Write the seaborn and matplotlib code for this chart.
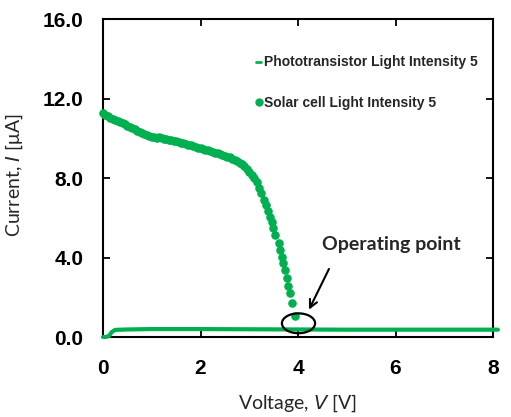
import matplotlib
matplotlib.use("Agg")
import matplotlib.pyplot as plt
from matplotlib.lines import Line2D
from matplotlib.patches import Ellipse
import pandas as pd
import seaborn as sns

# data
photo_v = [0.0, 0.05, 0.12, 0.18, 0.25, 0.5, 1.0, 2.0, 3.0, 4.0, 5.0, 6.0, 7.0, 8.1]
photo_i = [0.0, 0.0, 0.05, 0.25, 0.36, 0.38, 0.40, 0.40, 0.39, 0.38, 0.37, 0.37, 0.37, 0.37]

solar_v = [0.00, 0.05, 0.10, 0.15, 0.20, 0.25, 0.30, 0.35, 0.40, 0.45,
           0.50, 0.55, 0.60, 0.65, 0.70, 0.75, 0.80, 0.85, 0.90, 0.95,
           1.00, 1.05, 1.10, 1.15, 1.20, 1.25, 1.30, 1.35, 1.40, 1.45,
           1.50, 1.55, 1.60, 1.65, 1.70, 1.75, 1.80, 1.85, 1.90, 1.95,
           2.00, 2.05, 2.10, 2.15, 2.20, 2.25, 2.30, 2.35, 2.40, 2.45,
           2.50, 2.55, 2.60, 2.65, 2.70, 2.75, 2.80, 2.85, 2.90, 2.95,
           3.00, 3.05, 3.10, 3.15, 3.20, 3.25, 3.30, 3.34, 3.38, 3.42,
           3.46, 3.49, 3.53, 3.60, 3.63, 3.67, 3.70, 3.73, 3.77, 3.79,
           3.84, 3.87, 3.93]
solar_i = [11.25, 11.15, 11.10, 11.02, 10.95, 10.90, 10.86, 10.82, 10.75, 10.70,
           10.62, 10.56, 10.50, 10.45, 10.38, 10.32, 10.27, 10.22, 10.18, 10.12,
           10.08, 10.05, 10.00, 10.06, 10.02, 9.98, 9.95, 9.92, 9.90, 9.87,
           9.85, 9.82, 9.78, 9.74, 9.71, 9.67, 9.64, 9.60, 9.56, 9.53,
           9.50, 9.46, 9.42, 9.39, 9.36, 9.32, 9.28, 9.25, 9.21, 9.17,
           9.13, 9.08, 9.04, 8.98, 8.92, 8.86, 8.78, 8.69, 8.58, 8.47,
           8.32, 8.17, 7.98, 7.78, 7.52, 7.26, 6.90, 6.62, 6.32, 6.05,
           5.80, 5.50, 5.13, 4.71, 4.38, 4.04, 3.71, 3.37, 2.98, 2.57,
           2.20, 1.70, 1.05]

x_ticks = [0, 2, 4, 6, 8]
y_ticks = [0.0, 4.0, 8.0, 12.0, 16.0]
y_tick_labels = ["0.0", "4.0", "8.0", "12.0", "16.0"]

photo_label = "Phototransistor Light Intensity 5"
solar_label = "Solar cell Light Intensity 5"
green = "#00B050"

photo_df = pd.DataFrame({"V": photo_v, "I": photo_i})
solar_df = pd.DataFrame({"V": solar_v, "I": solar_i})

sns.set_style("ticks")
plt.rcParams["font.family"] = ["Liberation Sans", "DejaVu Sans"]

fig = plt.figure(figsize=(5.11, 4.17), dpi=100)
ax = fig.add_axes([0.2016, 0.1918, 0.7632, 0.7626])

sns.lineplot(data=photo_df, x="V", y="I", ax=ax, color=green, linewidth=3,
             clip_on=False, zorder=3, sort=False)
sns.scatterplot(data=solar_df, x="V", y="I", ax=ax, color=green, s=38,
                linewidth=0, clip_on=False, zorder=4)

ax.set_xlim(0, 8)
ax.set_ylim(0, 16)
ax.set_xticks(x_ticks)
ax.set_xticklabels([str(t) for t in x_ticks])
ax.set_yticks(y_ticks)
ax.set_yticklabels(y_tick_labels)
ax.tick_params(direction="in", length=5, width=1.3, top=True, right=True,
               labelsize=15, colors="black")
ax.tick_params(axis="x", pad=16)
ax.tick_params(axis="y", pad=14)
for lab in ax.get_xticklabels() + ax.get_yticklabels():
    lab.set_fontweight("bold")
for sp in ax.spines.values():
    sp.set_visible(True)
    sp.set_linewidth(1.5)
    sp.set_color("black")

ax.set_xlabel("Voltage, $\\mathit{V}$ [V]", fontsize=14, family="Lato")
ax.set_ylabel("Current, $\\mathit{I}$ [\u03bcA]", fontsize=14, family="Lato")
ax.xaxis.set_label_coords(0.5, -0.175)
ax.yaxis.set_label_coords(-0.20, 0.51)

# operating point marker
ax.add_patch(Ellipse((4.01, 0.69), 0.68, 1.0, fill=False, edgecolor="black",
                     linewidth=1.6, clip_on=False, zorder=5))
ax.annotate("", xy=(4.2, 1.25), xytext=(4.66, 3.55),
            arrowprops=dict(arrowstyle="->", color="black", lw=1.5,
                            mutation_scale=14))
ax.text(4.49, 4.63, "Operating point", fontsize=14, fontweight="bold",
        family="Lato", ha="left", va="center")

handles = [Line2D([], [], color=green, linewidth=2),
           Line2D([], [], color=green, marker="o", linestyle="none", markersize=5)]
leg = ax.legend(handles, [photo_label, solar_label], loc="center left",
                bbox_to_anchor=(0.36, 0.80), frameon=False, handlelength=0.4,
                handletextpad=0.2, labelspacing=1.9,
                prop={"family": "Liberation Sans", "weight": "bold", "size": 10})

fig.savefig("out.png", dpi=100)
